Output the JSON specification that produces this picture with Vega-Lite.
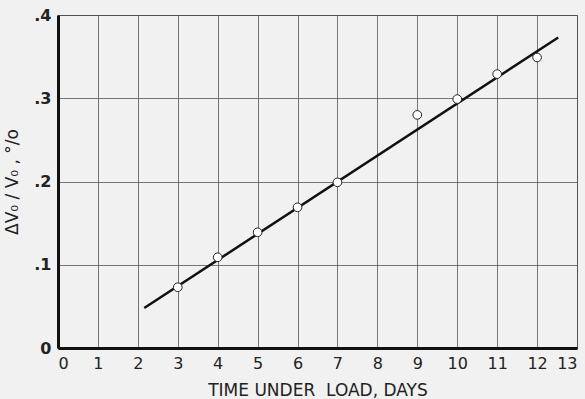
{
  "$schema": "https://vega.github.io/schema/vega-lite/v6.json",
  "autosize": "none",
  "width": 519,
  "height": 333,
  "padding": {"left": 58, "top": 15, "right": 8, "bottom": 51},
  "background": "#f1f1f1",
  "config": {
    "view": {"stroke": "#444", "strokeWidth": 1},
    "font": "DejaVu Sans",
    "axis": {
      "grid": true,
      "gridColor": "#555",
      "gridWidth": 0.8,
      "gridOpacity": 1,
      "domainColor": "#111",
      "domainWidth": 3,
      "ticks": false,
      "labelColor": "#222",
      "titleColor": "#222",
      "labelFont": "DejaVu Sans",
      "titleFont": "DejaVu Sans",
      "titleFontWeight": "normal",
      "labelOverlap": false
    }
  },
  "datasets": {
    "obs": [
      {"days": 3, "dv": 0.073},
      {"days": 4, "dv": 0.109},
      {"days": 5, "dv": 0.139},
      {"days": 6, "dv": 0.169},
      {"days": 7, "dv": 0.199},
      {"days": 9, "dv": 0.280},
      {"days": 10, "dv": 0.299},
      {"days": 11, "dv": 0.329},
      {"days": 12, "dv": 0.349}
    ],
    "fit": [
      {"days": 2.16, "dv": 0.048},
      {"days": 12.53, "dv": 0.373}
    ]
  },
  "encoding": {
    "x": {
      "field": "days", "type": "quantitative",
      "scale": {"domain": [0, 13], "nice": false},
      "axis": {
        "values": [0,1,2,3,4,5,6,7,8,9,10,11,12,13],
        "title": "TIME UNDER\u00a0\u00a0LOAD, DAYS",
        "labelFontSize": 16,
        "titleFontSize": 17,
        "labelPadding": 7,
        "titlePadding": 11
      }
    },
    "y": {
      "field": "dv", "type": "quantitative",
      "scale": {"domain": [0, 0.4], "nice": false},
      "axis": {
        "values": [0, 0.1, 0.2, 0.3, 0.4],
        "labelExpr": "datum.value == 0 ? '0' : replace(format(datum.value, '.1f'), '0.', '.')",
        "title": "ΔV₀ / V₀ ,\u00a0°/o",
        "labelFontSize": 16,
        "labelFontWeight": "bold",
        "titleFontSize": 17,
        "labelPadding": 7,
        "titlePadding": 12
      }
    }
  },
  "layer": [
    {
      "data": {"name": "fit"},
      "mark": {"type": "line", "color": "#111", "strokeWidth": 2.5}
    },
    {
      "data": {"name": "obs"},
      "mark": {"type": "point", "shape": "circle", "filled": true, "fill": "#ffffff", "stroke": "#222", "strokeWidth": 1, "size": 75, "opacity": 1}
    }
  ]
}
